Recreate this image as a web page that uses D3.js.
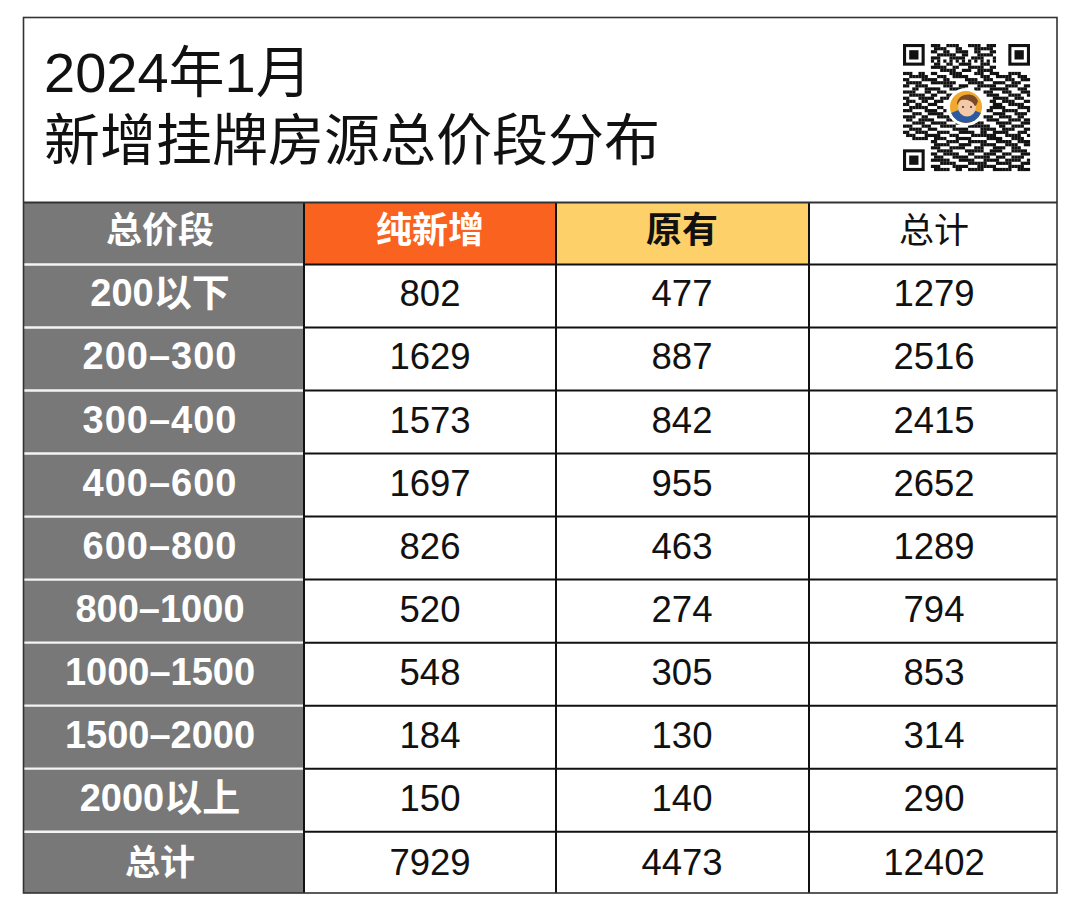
<!DOCTYPE html>
<html><head><meta charset="utf-8">
<script src="https://cdn.jsdelivr.net/npm/d3@7"></script>
<style>html,body{margin:0;background:#fff}svg{display:block}</style></head>
<body><svg id="c" width="1080" height="919"></svg>
<script>
const titleLines = ["2024年1月", "新增挂牌房源总价段分布"];
const headers = ["总价段", "纯新增", "原有", "总计"];
const bands = ["200以下","200–300","300–400","400–600","600–800","800–1000","1000–1500","1500–2000","2000以上","总计"];
const pureNew = [802,1629,1573,1697,826,520,548,184,150,7929];
const existing = [477,887,842,955,463,274,305,130,140,4473];
const totals = [1279,2516,2415,2652,1289,794,853,314,290,12402];
const qrRows = [
"00000000011100111100011110011100000000000",
"00000000001111000110000111111000000000000",
"00000000011001100111100110001100000000000",
"00000000000111111001100011111000000000000",
"00000000011100011111001111000100000000000",
"00000000010101010101010101010100000000000",
"00000000001100110011110001110000000000000",
"00000000011111001100011111001100000000000",
"00000000000011111001110011111000000000000",
"11100110011000011110000111001110001111000",
"00111111000111001111100001110011111001110",
"11000011111001100000111100111000011100111",
"01111100011111111000011111000111100111000",
"11001111000001110011100011111100011110011",
"00011001111100011111000110001111110001110",
"11110001100111000000000000111000111000111",
"00111110011000110000000000011110001111001",
"11000111110011100000000000000111110011100",
"01110011001110000000000000001100111100011",
"11001100111000000000000000000111001111100",
"00111111000110000000000000001111100001111",
"11100001111001000000000000011000111110001",
"00011100111110000000000000000111100011110",
"11110011000111100000000000111001111001100",
"01100111110000111100111100011110001111011",
"00011110011111000111100111000011111000111",
"11100011100011111000011111110001100111100",
"00111100111000001111100001111100111100011",
"11001111000111100011111001100111110001110",
"01110001111100011100001111111100011111001",
"00011111001111000111110000011111000111100",
"00000000011000111100011111100011111001111",
"00000000001111100011110001111100011110011",
"00000000011100011111000111000111100111000",
"00000000000111110000111111001111000111110",
"00000000011001111100011000111100111000111",
"00000000001110001111100111110011100111100",
"00000000011111100011111000111110011111001",
"00000000000011111000011111100011111000111",
"00000000011100001111100011111100001111100",
"00000000001111100110011111000111111001111"];

const svg = d3.select("#c");
const LATIN = "'Liberation Sans','Noto Sans CJK SC',sans-serif";
const colEdges = [23,304,556,809,1057];
const rowLabels = ["head", ...bands];
const y = d3.scaleBand().domain(rowLabels).range([201,894.2]);
const yText = d3.scalePoint().domain(bands).range([306.2,874.6]);
const fills = ["#787878","#f9621f","#fdd069","#ffffff"];
const headColors = ["#fff","#fff","#111","#111"];
const headWeights = ["bold","bold","bold","normal"];
const headSizes = [36,36,36,35];

svg.append("rect").attr("x",23).attr("y",17).attr("width",1034).attr("height",876).attr("fill","#fff");
svg.append("rect").attr("x",colEdges[0]).attr("y",202).attr("width",colEdges[1]-colEdges[0]).attr("height",691).attr("fill",fills[0]);

headers.slice(1).forEach((h,i)=>{
  svg.append("rect").attr("x",colEdges[i+1]).attr("y",202).attr("width",colEdges[i+2]-colEdges[i+1]).attr("height",y.bandwidth()).attr("fill",fills[i+1]);
});

rowLabels.slice(1).forEach(r=>{
  const yy = y(r)+0.5;
  svg.append("line").attr("x1",24).attr("x2",303).attr("y1",yy).attr("y2",yy).attr("stroke","#f4f4f4").attr("stroke-width",2.4);
  svg.append("line").attr("x1",304).attr("x2",1057).attr("y1",yy).attr("y2",yy).attr("stroke","#111").attr("stroke-width",2);
});
colEdges.slice(1,4).forEach(v=>{
  svg.append("line").attr("x1",v).attr("x2",v).attr("y1",202).attr("y2",893).attr("stroke","#111").attr("stroke-width",2);
});
svg.append("line").attr("x1",23).attr("x2",1057).attr("y1",202.5).attr("y2",202.5).attr("stroke","#333").attr("stroke-width",2);
svg.append("rect").attr("x",23.5).attr("y",17.5).attr("width",1033.5).attr("height",875.5).attr("fill","none").attr("stroke","#333").attr("stroke-width",1.6);

svg.selectAll("text.title").data(titleLines).join("text").attr("class","title")
  .attr("x",44).attr("y",(d,i)=>[92,159.5][i])
  .attr("font-family",LATIN).attr("font-size",(d,i)=>[56,56][i]).attr("fill","#111").text(d=>d);

const cx = [160,430,682,934];
headers.forEach((h,i)=>{
  svg.append("text").attr("x",cx[i]).attr("y",243)
    .attr("text-anchor","middle").attr("font-family",LATIN).attr("font-size",headSizes[i])
    .attr("font-weight",headWeights[i]).attr("fill",headColors[i]).text(h);
});
svg.selectAll("text.band").data(bands).join("text").attr("class","band")
  .attr("x",cx[0]).attr("y",d=>yText(d))
  .attr("text-anchor","middle").attr("font-family",LATIN).attr("font-size",d=>d==="总计"?35:38)
  .attr("letter-spacing",d=>d.length===7?1:0)
  .attr("font-weight","bold").attr("fill","#fff").text(d=>d);
[pureNew,existing,totals].forEach((vals,c)=>{
  svg.selectAll("text.v"+c).data(vals).join("text").attr("class","v"+c)
    .attr("x",cx[c+1]).attr("y",(d,i)=>yText(bands[i]))
    .attr("text-anchor","middle").attr("font-family",LATIN).attr("font-size",36.5)
    .attr("fill","#111").text(d=>d);
});

const qx=903,qy=44,qs=127/41;
const g=svg.append("g").attr("transform",`translate(${qx},${qy})`);
const inFinder=(r,c)=>(r<9&&c<9)||(r<9&&c>31)||(r>31&&c<9);
qrRows.forEach((row,r)=>row.split("").forEach((b,c)=>{
  if(b==="1"&&!inFinder(r,c)) g.append("rect").attr("x",c*qs).attr("y",r*qs).attr("width",qs+.1).attr("height",qs+.1).attr("fill","#111");
}));
[[0,0],[34,0],[0,34]].forEach(([c,r])=>{
  g.append("rect").attr("x",(c+.5)*qs).attr("y",(r+.5)*qs).attr("width",6*qs).attr("height",6*qs).attr("fill","none").attr("stroke","#111").attr("stroke-width",qs);
  g.append("rect").attr("x",(c+2)*qs).attr("y",(r+2)*qs).attr("width",3*qs).attr("height",3*qs).attr("fill","#111");
});
const a=svg.append("g").attr("transform","translate(966,107)");
a.append("circle").attr("r",19).attr("fill","#fff");
a.append("circle").attr("r",16).attr("fill","#f0a92c");
a.append("path").attr("d",d3.arc()({innerRadius:0,outerRadius:16,startAngle:Math.PI*0.62,endAngle:Math.PI*1.38})).attr("fill","#2b5aa0");
a.append("ellipse").attr("cx",1).attr("cy",0).attr("rx",9).attr("ry",9.5).attr("fill","#f4c9a8");
a.append("path").attr("d","M-9,-2C-10,-13 8,-17 12,-6C11,-3 10,-1 9,-1C6,-7 0,-8 -5,-7C-7,-6 -8,-3 -9,-2Z").attr("fill","#7a4a26");
a.append("circle").attr("cx",-3).attr("cy",0).attr("r",1).attr("fill","#333");
a.append("circle").attr("cx",5).attr("cy",0).attr("r",1).attr("fill","#333");
</script></body></html>
